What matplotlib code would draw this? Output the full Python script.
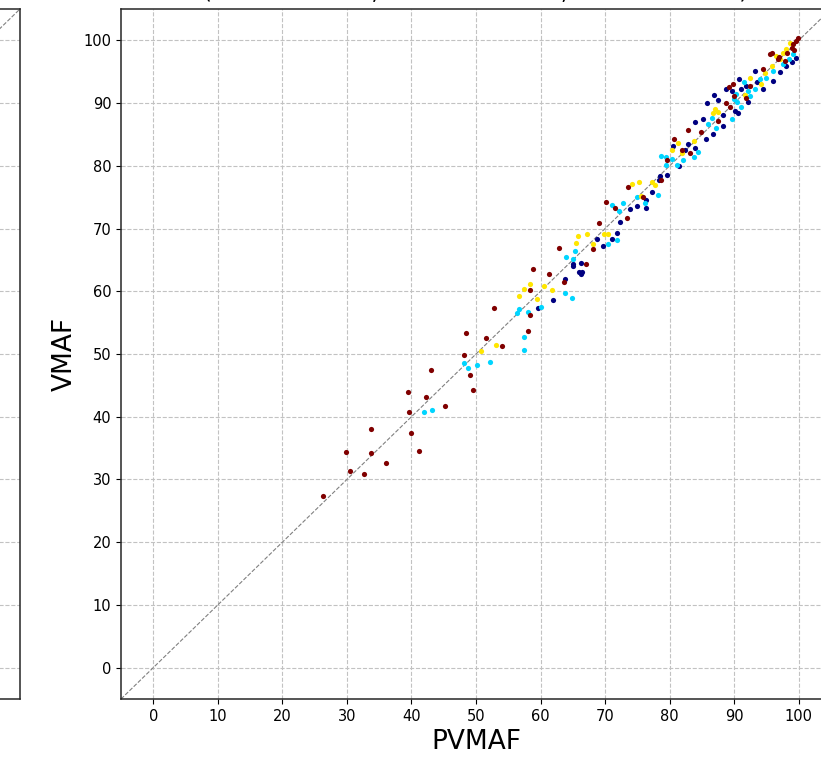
import numpy as np
import matplotlib
matplotlib.use("Agg")
import matplotlib.pyplot as plt

# PVMAF (x) / VMAF (y) pairs, one list per group
navy_x = [59.6, 61.9, 63.8, 65.0, 65.1, 65.9, 66.2, 66.2, 66.4, 68.7, 69.7, 71.0, 71.8,
          72.3, 73.9, 74.9, 76.4, 76.4, 77.3, 78.3, 78.5, 79.6, 80.5, 81.5, 82.4, 82.8,
          83.9, 83.9, 85.1, 85.7, 85.8, 86.7, 86.9, 87.5, 88.2, 88.2, 88.7, 89.6, 90.1,
          90.6, 90.8, 91.1, 91.9, 92.2, 93.2, 93.5, 94.5, 96.0, 97.1, 98.1, 98.9, 99.6]
navy_y = [57.3, 58.6, 61.9, 64.1, 64.3, 63.0, 64.5, 62.8, 63.0, 68.4, 67.2, 68.4, 69.3,
          71.0, 73.1, 73.6, 73.3, 74.6, 75.8, 77.8, 78.4, 78.5, 83.2, 80.0, 82.6, 83.4,
          82.8, 87.0, 87.5, 84.3, 90.0, 85.0, 91.3, 90.5, 88.1, 86.4, 92.3, 91.9, 88.8,
          88.5, 93.9, 92.2, 92.7, 90.1, 95.1, 93.3, 92.2, 93.5, 95.0, 95.9, 96.5, 97.2]

cyan_x = [41.9, 43.2, 48.1, 48.8, 50.1, 52.1, 56.4, 56.6, 57.5, 57.5, 58.0, 60.1, 63.8,
          64.8, 64.0, 65.1, 65.3, 70.5, 71.0, 71.9, 72.1, 72.7, 74.9, 76.2, 78.2, 78.7,
          79.4, 79.4, 80.3, 81.1, 82.1, 83.7, 84.4, 86.0, 86.5, 87.2, 89.6, 90.3, 90.5,
          91.1, 91.5, 92.2, 90.0, 92.4, 93.2, 94.0, 95.0, 96.0, 97.6, 98.5, 99.1]
cyan_y = [40.8, 41.1, 48.5, 47.8, 48.2, 48.8, 56.5, 57.1, 52.7, 50.7, 56.7, 57.5, 59.8,
          58.9, 65.4, 65.1, 66.4, 67.5, 73.7, 68.2, 72.8, 74.1, 75.1, 74.1, 75.3, 81.6,
          81.4, 80.1, 81.1, 80.1, 81.0, 81.4, 82.2, 86.6, 87.7, 86.1, 87.5, 91.5, 90.1,
          89.4, 93.3, 91.9, 90.6, 91.1, 92.2, 93.8, 94.0, 95.1, 96.2, 97.1, 97.8]

gold_x = [50.8, 53.1, 56.6, 57.5, 58.4, 59.5, 60.6, 61.7, 65.5, 65.8, 67.2, 68.2, 69.8,
          70.5, 74.1, 75.2, 75.5, 77.2, 77.7, 80.3, 81.3, 81.9, 83.7, 86.7, 87.0, 87.5,
          91.6, 92.4, 94.2, 94.7, 95.8, 96.5, 97.1, 97.6, 98.1, 98.6]
gold_y = [50.5, 51.4, 59.2, 60.4, 61.2, 58.7, 60.8, 60.2, 67.7, 68.8, 69.2, 67.5, 69.1,
          69.2, 77.1, 77.4, 75.2, 77.4, 77.0, 82.6, 83.7, 82.1, 83.9, 88.5, 89.0, 88.6,
          91.3, 94.0, 93.0, 94.8, 95.9, 97.5, 97.0, 98.0, 98.6, 99.6]

red_x = [26.3, 29.9, 30.5, 32.6, 33.8, 33.8, 36.0, 39.4, 39.6, 39.9, 41.2, 42.3, 43.1,
         45.2, 48.1, 48.4, 49.0, 49.6, 51.5, 52.8, 54.0, 58.0, 58.3, 58.3, 58.8, 61.3,
         62.9, 63.7, 67.1, 68.2, 69.0, 70.1, 71.6, 73.4, 73.6, 75.8, 78.6, 79.6, 80.6,
         81.9, 82.8, 83.2, 84.9, 87.5, 88.7, 89.2, 89.8, 89.3, 91.9, 90.0, 92.4, 94.5,
         95.5, 95.9, 97.8, 98.9, 99.1, 99.6, 99.9, 97.0, 98.2, 96.8, 99.3]
red_y = [27.4, 34.3, 31.4, 30.8, 38.0, 34.2, 32.6, 44.0, 40.7, 37.4, 34.6, 43.1, 47.5,
         41.7, 49.9, 53.3, 46.7, 44.3, 52.5, 57.4, 51.2, 53.7, 56.2, 60.2, 63.5, 62.8,
         66.9, 61.5, 64.3, 66.8, 70.9, 74.3, 73.3, 71.7, 76.6, 75.1, 77.7, 81.0, 84.3,
         82.6, 85.7, 82.1, 85.4, 87.2, 90.0, 92.6, 93.0, 89.3, 90.8, 91.1, 92.7, 95.4,
         97.8, 98.0, 96.7, 98.8, 99.4, 99.9, 100.3, 97.3, 98.0, 97.0, 98.5]

groups = [(navy_x, navy_y), (cyan_x, cyan_y), (gold_x, gold_y), (red_x, red_y)]
cmap = plt.get_cmap('jet')
group_colors = [cmap(v) for v in np.linspace(0, 1, len(groups))]

ticks = np.arange(0, 101, 10)
lims = (-5, 105)


def style_axes(ax):
    ax.set_xlim(lims)
    ax.set_ylim(lims)
    ax.set_xticks(ticks)
    ax.set_yticks(ticks)
    ax.plot(lims, lims, ls='--', lw=0.8, color='gray', zorder=1)
    ax.grid(True, ls='--', lw=0.8, color='0.76')
    ax.set_axisbelow(True)
    ax.tick_params(labelsize=10.5)
    for s in ax.spines.values():
        s.set_linewidth(1.1)
        s.set_color('0.15')


fig = plt.figure(figsize=(8.21, 7.61), dpi=100)

# left panel, mostly outside the crop
ax0 = fig.add_axes([-690 / 821, 62 / 761, 710 / 821, 690 / 761])
style_axes(ax0)

# main panel
ax = fig.add_axes([121 / 821, 62 / 761, 710 / 821, 690 / 761])
style_axes(ax)
for (gx, gy), col in zip(groups, group_colors):
    ax.scatter(gx, gy, s=14, color=col, zorder=3, linewidths=0)

ax.set_xlabel('PVMAF', fontsize=19)
ax.set_ylabel('VMAF', fontsize=19)
ax.set_title('PVMAF vs VMAF\n(PCC = 0.9951, SRCC = 0.9937, RMSE = 1.683)',
             fontsize=16.5, pad=7.2)

fig.savefig('out.png', dpi=100)
